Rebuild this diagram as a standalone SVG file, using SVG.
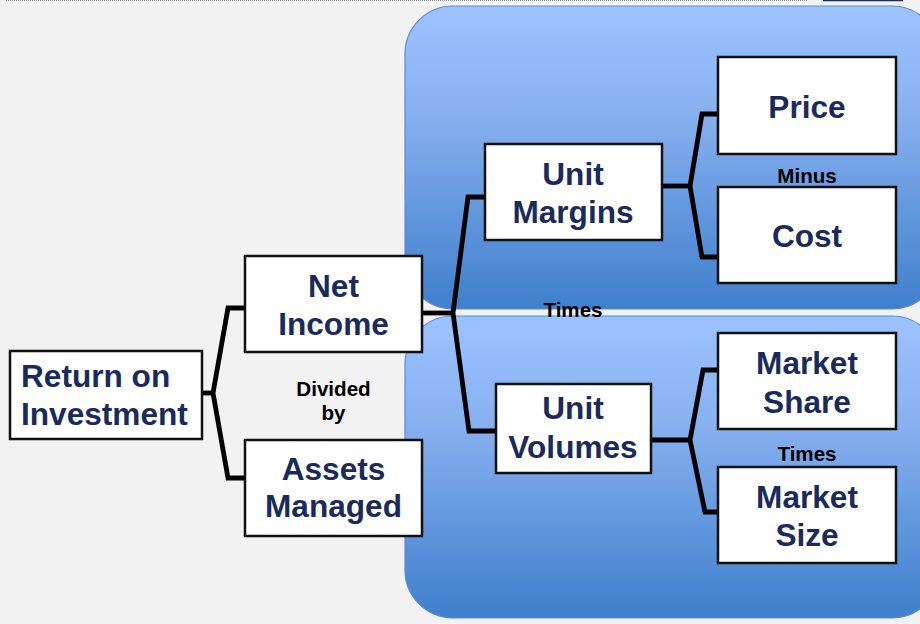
<svg xmlns="http://www.w3.org/2000/svg" width="920" height="624" viewBox="0 0 920 624">
  <defs>
    <linearGradient id="panelGrad" x1="0" y1="0" x2="0" y2="1">
      <stop offset="0" stop-color="#9DC3FF"/>
      <stop offset="0.35" stop-color="#88B1F0"/>
      <stop offset="1" stop-color="#3F7FCC"/>
    </linearGradient>
    <style>
      .panel { fill: url(#panelGrad); stroke: #5B8BD3; stroke-width: 1.2; }
      .box { fill: #FFFFFF; stroke: #111111; stroke-width: 2.5; }
      .main { font-family: "Liberation Sans", Arial, sans-serif; font-weight: bold; font-size: 31.6px; fill: #1B2A5E; text-anchor: middle; }
      .lbl { font-family: "Liberation Sans", Arial, sans-serif; font-weight: bold; font-size: 20.6px; fill: #000000; text-anchor: middle; }
      .conn { fill: none; stroke: #000000; stroke-width: 4.8; stroke-linejoin: miter; stroke-linecap: butt; }
    </style>
  </defs>
  <rect x="0" y="0" width="920" height="624" fill="#F2F2F2"/>
  <line x1="6" y1="0.5" x2="808" y2="0.5" stroke="#9A9A9A" stroke-width="1" stroke-dasharray="1,1"/>
  <line x1="823" y1="0.5" x2="903" y2="0.5" stroke="#1B2A5E" stroke-width="1.5"/>

  <g id="panel-top"><rect class="panel" x="405" y="6" width="535" height="303" rx="48" ry="48"/></g>
  <g id="panel-bottom"><rect class="panel" x="405" y="316" width="535" height="302" rx="48" ry="48"/></g>

  <g id="connectors">
    <polyline class="conn" points="202,393 213,393"/>
    <polyline class="conn" points="245,308 228,308 213,393 228,478 245,478"/>
    <polyline class="conn" points="422,313 453,313"/>
    <polyline class="conn" points="485,197 468,197 453,313 469,431 496,431"/>
    <polyline class="conn" points="662,186 690,186"/>
    <polyline class="conn" points="718,114 702,114 690,186 702,257 718,257"/>
    <polyline class="conn" points="651,440 690,440"/>
    <polyline class="conn" points="718,370 703,370 690,440 705,512 718,512"/>
  </g>

  <g id="roi">
    <rect class="box" x="10" y="351" width="192" height="88"/>
    <text class="main" x="21" y="387" style="text-anchor:start">Return on</text>
    <text class="main" x="21" y="425" style="text-anchor:start">Investment</text>
  </g>
  <g id="net-income">
    <rect class="box" x="245" y="256" width="177" height="96"/>
    <text class="main" x="333.5" y="297">Net</text>
    <text class="main" x="333.5" y="335">Income</text>
  </g>
  <g id="assets-managed">
    <rect class="box" x="245" y="440" width="177" height="96"/>
    <text class="main" x="333.5" y="480">Assets</text>
    <text class="main" x="333.5" y="517">Managed</text>
  </g>
  <g id="unit-margins">
    <rect class="box" x="485" y="144" width="177" height="96"/>
    <text class="main" x="573" y="185">Unit</text>
    <text class="main" x="573" y="223">Margins</text>
  </g>
  <g id="unit-volumes">
    <rect class="box" x="496" y="384" width="155" height="89"/>
    <text class="main" x="573" y="419">Unit</text>
    <text class="main" x="573" y="458">Volumes</text>
  </g>
  <g id="price">
    <rect class="box" x="718" y="57" width="178" height="97"/>
    <text class="main" x="807" y="118">Price</text>
  </g>
  <g id="cost">
    <rect class="box" x="718" y="187" width="178" height="96"/>
    <text class="main" x="807" y="247">Cost</text>
  </g>
  <g id="market-share">
    <rect class="box" x="718" y="333" width="178" height="96"/>
    <text class="main" x="807" y="374">Market</text>
    <text class="main" x="807" y="413">Share</text>
  </g>
  <g id="market-size">
    <rect class="box" x="718" y="467" width="178" height="96"/>
    <text class="main" x="807" y="508">Market</text>
    <text class="main" x="807" y="546">Size</text>
  </g>

  <g id="labels">
    <text class="lbl" x="807" y="183">Minus</text>
    <text class="lbl" x="573" y="317">Times</text>
    <text class="lbl" x="807" y="461">Times</text>
    <text class="lbl" x="333.5" y="396">Divided</text>
    <text class="lbl" x="333.5" y="420">by</text>
  </g>
</svg>
